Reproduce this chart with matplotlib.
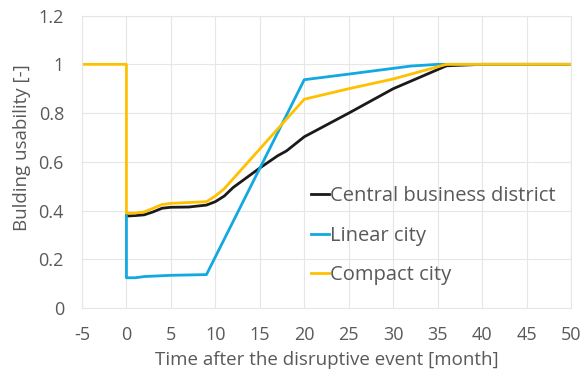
import numpy as np
import matplotlib
matplotlib.use("Agg")
import matplotlib.pyplot as plt

plt.rcParams['font.family'] = ['Open Sans', 'DejaVu Sans']
plt.rcParams['axes.unicode_minus'] = False

# ── Data ────────────────────────────────────────────────────────
cbd_x = [0, 0, 1, 2, 3, 4, 5, 7, 9, 10, 11, 12, 15, 17, 18, 20, 25, 30, 36, 40, 50]
cbd_y = [0.38, 0.378, 0.38, 0.383, 0.395, 0.41, 0.414, 0.415, 0.423, 0.437, 0.46, 0.495,
         0.575, 0.625, 0.645, 0.703, 0.80, 0.90, 0.994, 1.0, 1.0]

lin_x = [0, 0, 1, 2, 5, 9, 20, 25, 32, 35, 50]
lin_y = [0.38, 0.125, 0.125, 0.13, 0.135, 0.138, 0.937, 0.96, 0.993, 1.0, 1.0]

cmp_x = [-5, 0, 0, 1, 2, 4, 5, 9, 10, 11, 20, 25, 30, 36, 50]
cmp_y = [1.0, 1.0, 0.39, 0.39, 0.395, 0.425, 0.43, 0.437, 0.46, 0.49, 0.857, 0.90, 0.94, 1.0, 1.0]

x_ticks = np.arange(-5, 51, 5)
y_ticks = [0, 0.2, 0.4, 0.6, 0.8, 1.0, 1.2]
y_ticklabels = ["0", "0.2", "0.4", "0.6", "0.8", "1", "1.2"]

grey = "#595959"

fig = plt.figure(figsize=(5.81, 3.75), dpi=100)
ax = fig.add_axes([0.1411, 0.178, 0.8417, 0.7805])

ax.plot(cbd_x, cbd_y, color="#1a1a1a", lw=2, label="Central business district")
ax.plot(lin_x, lin_y, color="#12a8e0", lw=2, label="Linear city")
ax.plot(cmp_x, cmp_y, color="#ffc000", lw=2, label="Compact city")

ax.set_xlim(-5, 50)
ax.set_ylim(0, 1.2)
ax.set_xticks(x_ticks)
ax.set_yticks(y_ticks)
ax.set_yticklabels(y_ticklabels)
ax.grid(True, color="#e6e6e6", lw=0.8)
ax.set_axisbelow(True)
for s in ax.spines.values():
    s.set_color("#e6e6e6")
ax.tick_params(length=0, colors=grey, labelsize=13, pad=13)

ax.set_xlabel("Time after the disruptive event [month]", color=grey, fontsize=13.5, labelpad=5)
ax.set_ylabel("Bulding usability [-]", color=grey, fontsize=13.5)
ax.yaxis.set_label_coords(-0.105, 0.55)

leg = ax.legend(loc="upper left", bbox_to_anchor=(0.468, 0.416), frameon=False, fontsize=14.5,
                borderpad=0, borderaxespad=0,
                handlelength=0.9, handletextpad=0.05, labelspacing=0.95, labelcolor=grey)

fig.savefig("out.png", dpi=100)
